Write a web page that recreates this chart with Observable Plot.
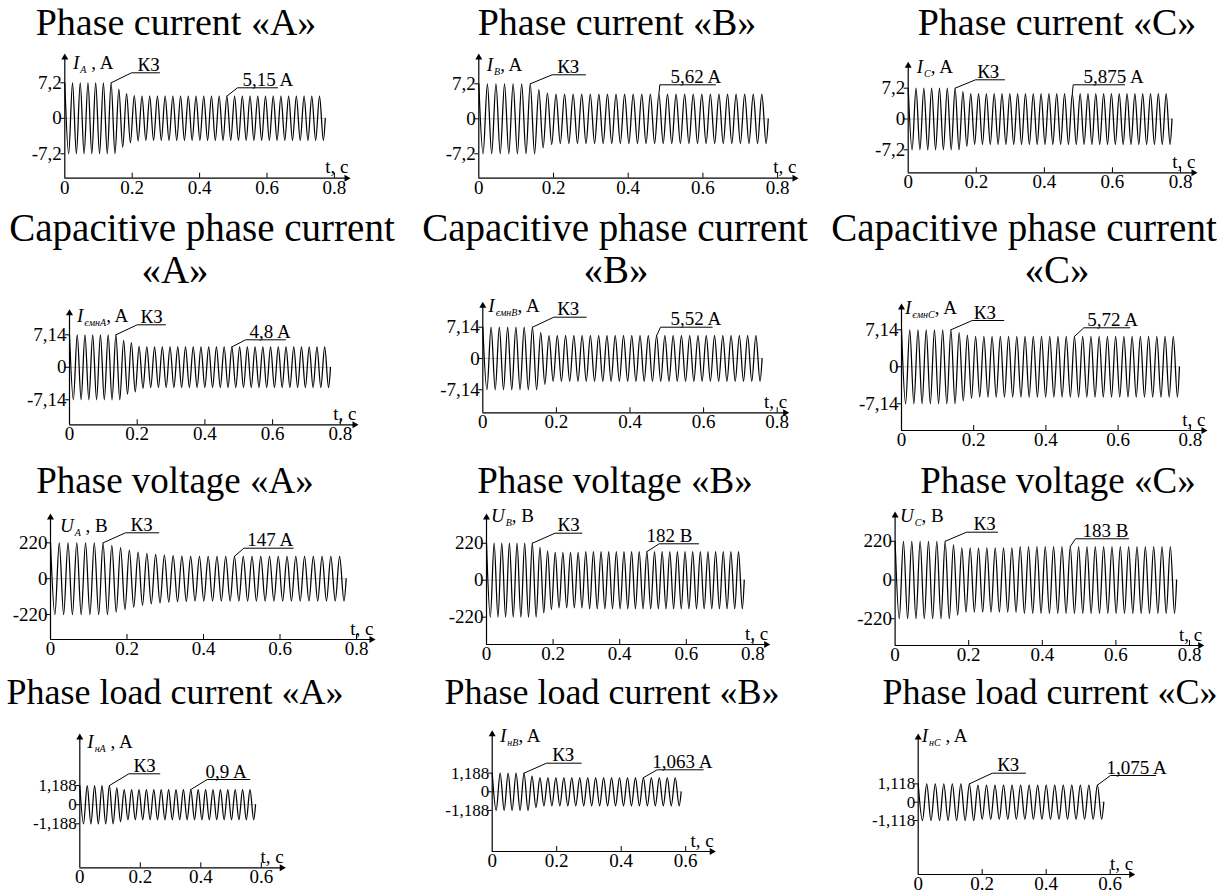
<!DOCTYPE html>
<html><head><meta charset="utf-8">
<script src="https://cdn.jsdelivr.net/npm/d3@7"></script>
<script src="https://cdn.jsdelivr.net/npm/@observablehq/plot@0.6"></script>
<style>
body{margin:0;background:#fff;}
#fig{position:relative;width:1225px;height:894px;overflow:hidden;font-family:"Liberation Serif","Times New Roman",serif;color:#000;}
.title{position:absolute;white-space:nowrap;transform:translate(-50%,-50%);line-height:1;}
.ylab{position:absolute;font-size:19px;white-space:nowrap;transform:translateY(-50%);line-height:1;}
.ylab i.s{font-size:10px;position:relative;top:4px;margin-left:1px;}
.panel{position:absolute;}
</style></head><body><div id="fig"></div><script>
// ---------- titles (text, line by line) ----------
const titleLines = [
  ["Phase current «A»"], ["Phase current «B»"], ["Phase current «C»"],
  ["Capacitive phase current", "«A»"], ["Capacitive phase current", "«B»"], ["Capacitive phase current", "«C»"],
  ["Phase voltage «A»"], ["Phase voltage «B»"], ["Phase voltage «C»"],
  ["Phase load current «A»"], ["Phase load current «B»"], ["Phase load current «C»"]
];
// y-axis labels: symbol, subscript, unit
const yLabelSym = ["I","I","I","I","I","I","U","U","U","I","I","I"];
const yLabelSub = ["A","B","C","ємнA","ємнB","ємнC","A","B","C","нA","нB","нC"];
const yLabelUnit = [" , A",", A",", A",", A",", A",", A"," , B",", B",", B"," , A",", A"," , A"];
// y tick values and labels
const yTickVal = [7.2,7.2,7.2,7.14,7.14,7.14,220,220,220,1.188,1.188,1.118];
const yTickText = [["7,2","0","-7,2"],["7,2","0","-7,2"],["7,2","0","-7,2"],
  ["7,14","0","-7,14"],["7,14","0","-7,14"],["7,14","0","-7,14"],
  ["220","0","-220"],["220","0","-220"],["220","0","-220"],
  ["1,188","0","-1,188"],["1,188","0","-1,188"],["1,118","0","-1,118"]];
// x ticks
const xTicksLong = [0,0.2,0.4,0.6,0.8];
const xTicksLongText = ["0","0.2","0.4","0.6","0.8"];
const xTicksShort = [0,0.2,0.4,0.6];
const xTicksShortText = ["0","0.2","0.4","0.6"];
// annotation texts
const faultText = "КЗ";
const valueText = ["5,15 A","5,62 A","5,875 A","4,8 A","5,52 A","5,72 A","147 A","182 B","183 B","0,9 A","1,063 A","1,075 A"];
// end time of each oscillogram, s
const tEnd = [0.773,0.775,0.775,0.771,0.759,0.770,0.773,0.774,0.765,0.581,0.586,0.580];
// peak amplitude of each cycle
const ampIA = [7.2,7.2,7.2,7.2,7.2,7.2,7.2,5.9,5.0,4.6,4.5,4.5,4.5,4.5,4.5,4.5,4.5,4.5,4.5,4.5,4.5,4.5,4.5,4.5,4.5,4.5,4.5,4.5,4.5,4.5,4.5,4.5,4.5,4.5];
const ampIB = [7.2,7.2,7.2,7.2,7.2,7.2,7.2,6.0,5.3,5.1,5.1,5.1,5.1,5.1,5.1,5.1,5.1,5.1,5.1,5.1,5.1,5.1,5.1,5.1,5.1,5.1,5.1,5.1,5.1,5.1,5.1,5.1,5.1,5.1];
const ampIC = [7.2,7.2,7.2,7.2,7.2,7.2,7.2,6.4,5.95,5.95,5.95,5.95,5.95,5.95,5.95,5.95,5.95,5.95,5.95,5.95,5.95,5.95,5.95,5.95,5.95,5.95,5.95,5.95,5.95,5.95,5.95,5.95,5.95,5.95];
const ampIcA = [7.14,7.14,7.14,7.14,7.14,7.14,7.14,5.9,5.4,4.6,4.47,4.47,4.47,4.47,4.47,4.47,4.47,4.47,4.47,4.47,4.47,4.47,4.47,4.47,4.47,4.47,4.47,4.47,4.47,4.47,4.47,4.47,4.47,4.47];
const ampIcB = [7.14,7.14,7.14,7.14,7.14,7.14,7.14,5.9,5.2,5.2,5.2,5.2,5.2,5.2,5.2,5.2,5.2,5.2,5.2,5.2,5.2,5.2,5.2,5.2,5.2,5.2,5.2,5.2,5.2,5.2,5.2,5.2,5.2,5.2];
const ampIcC = [7.14,7.14,7.14,7.14,7.14,7.14,7.14,6.6,6.1,5.85,5.85,5.85,5.85,5.85,5.85,5.85,5.85,5.85,5.85,5.85,5.85,5.85,5.85,5.85,5.85,5.85,5.85,5.85,5.85,5.85,5.85,5.85,5.85,5.85];
const ampUA = [220,220,220,220,220,220,220,205,190,175,163,155,149,144,141,139,137,137,137,137,137,137,137,137,137,137,137,137,137,137,137,137,137,137];
const ampUB = [220,220,220,220,220,220,220,195,175,165,165,165,165,170,170,170,170,170,170,170,170,170,170,170,170,170,170,170,170,170,170,170,170,170];
const ampUC = [220,220,220,220,220,220,220,200,183,183,183,183,183,183,183,190,190,190,190,190,190,190,190,190,190,190,190,190,190,190,190,190,190,190];
const ampInA = [1.188,1.188,1.188,1.188,1.188,1.05,0.94,0.94,0.94,0.94,0.94,0.94,0.94,0.94,0.94,0.94,0.94,0.94,0.94,0.94,0.94,0.94,0.94,0.94];
const ampInB = [1.188,1.188,1.188,1.188,1.188,1.0,0.90,0.90,0.90,0.90,0.90,0.90,0.90,0.90,0.90,0.90,0.90,0.90,0.90,0.90,0.90,0.90,0.90,0.90];
const ampInC = [1.118,1.118,1.118,1.118,1.118,1.118,1.118,1.04,1.04,1.04,1.04,1.04,1.04,1.04,1.04,1.04,1.04,1.04,1.04,1.04,1.04,1.04];
const series = [ampIA,ampIB,ampIC,ampIcA,ampIcB,ampIcC,ampUA,ampUB,ampUC,ampInA,ampInB,ampInC];
// cycle index of the peak each label points to: [fault, value]
const labelPeak = [[6,21],[6,21],[6,21],[6,21],[6,21],[6,21],[6,21],[6,21],[6,21],[4,15],[4,19],[6,21]];

// ---------- layout (page pixels) ----------
const cols = [[0,410],[410,815],[815,1225]];
const rows = [[45,160],[295,160],[500,172],[722,172]];
const layout = [
  {ox:64.3, axisY:177.7, pxs:337,   zeroY:117.8, pxu:4.93,  top:55,    right:348},
  {ox:478.3,axisY:177.7, pxs:373.5, zeroY:118.3, pxu:4.86,  top:55,    right:796},
  {ox:907.7,axisY:172.3, pxs:340.4, zeroY:118.5, pxu:4.28,  top:63.3,  right:1195},
  {ox:69,   axisY:424.3, pxs:338.5, zeroY:366.8, pxu:4.55,  top:310.7, right:356},
  {ox:482.3,axisY:412.3, pxs:368,   zeroY:358,   pxu:4.38,  top:303.3, right:786.7},
  {ox:901,  axisY:430,   pxs:361,   zeroY:366.3, pxu:5.18,  top:305,   right:1205},
  {ox:50,   axisY:639,   pxs:382.5, zeroY:578.2, pxu:0.163, top:515,   right:373},
  {ox:486,  axisY:644,   pxs:333,   zeroY:579.7, pxu:0.168, top:515,   right:767.7},
  {ox:894.6,axisY:645,   pxs:368,   zeroY:579.5, pxu:0.176, top:513,   right:1201.7},
  {ox:79.3, axisY:867.3, pxs:302.5, zeroY:804.2, pxu:16.1,  top:735,   right:283.3},
  {ox:491.7,axisY:851,   pxs:322.5, zeroY:791.3, pxu:15.7,  top:731.7, right:713.3},
  {ox:917.7,axisY:874,   pxs:320,   zeroY:801.7, pxu:16.4,  top:735,   right:1132.7}
];
// annotation geometry: [elbowX, elbowY, endX, textX]
const annoFault = [[131,72.3,159,137],[551.7,74.3,585,556.7],[975,79.3,1004,976.7],[136.7,324.3,165,140],[553.3,316.7,585.7,556.7],[971.7,320,1003.3,973.3],[125,532.3,158.3,130],[554.5,532.7,581.4,557],[966,531.7,997,973],[128.3,773.3,159.3,133],[546,762.7,580.7,551.7],[991.7,772.7,1025,996.7]];
const annoValue = [[237,87.3,277,242],[659.3,84.3,715,670],[1072.7,84.3,1124,1083],[245,339.3,285,249],[660,326.7,711.7,670],[1083.3,327.3,1129.3,1086.7],[243.3,547.7,292.7,246.7],[658.6,543.3,698,646],[1075,538.3,1128,1082],[206.7,779,249.3,205],[656.7,769.3,702.7,651.7],[1110,775,1155,1106]];
const titleSize = [38,38,38,39,39,39,37,37,37,36,36,36];
const titlePos = [
  [[176,22]],[[617,22]],[[1057,22]],
  [[202,227],[175,269]],[[615,227],[616,269]],[[1024,227],[1057,269]],
  [[175,480]],[[615,480]],[[1058,480]],
  [[175,692]],[[612,692]],[[1050,692]]
];
const yLabPos = [[73,61.7],[486.7,64],[916.7,66],[77,315],[488.3,305],[905,306.7],[60,525],[491,515],[900,515],[87.3,740.7],[500,735],[921.7,735]];

const fig = document.getElementById("fig");
const FONT = "'Liberation Serif','Times New Roman',serif";

for (let i = 0; i < 12; i++) {
  const L = layout[i];
  const amps = series[i];
  const N = amps.length;
  const T = tEnd[i] / (N - 0.25);
  const pts = [];
  amps.forEach((a, k) => { pts.push({t: k * T, v: a}); pts.push({t: (k + 0.5) * T, v: -a}); });
  pts.push({t: tEnd[i], v: 0});

  const col = cols[i % 3], row = rows[Math.floor(i / 3)];
  const bx = col[0], by = row[0], w = col[1] - col[0], h = row[1];
  const xv = px => (px - L.ox) / L.pxs;
  const yv = py => (L.zeroY - py) / L.pxu;
  const ax = yv(L.axisY);
  const longAxis = i < 9;
  const xt = longAxis ? xTicksLong : xTicksShort;
  const xtt = longAxis ? xTicksLongText : xTicksShortText;
  const yt = [yTickVal[i], 0, -yTickVal[i]];
  const ytSize = i >= 9 ? 17 : 19;

  const pk = (idx) => ({t: idx * T, v: amps[idx]});
  const f = annoFault[i], vv = annoValue[i];
  const fPath = [pk(labelPeak[i][0]), {t: xv(f[0]), v: yv(f[1])}, {t: xv(f[2]), v: yv(f[1])}];
  const vPath = [pk(labelPeak[i][1]), {t: xv(vv[0]), v: yv(vv[1])}, {t: xv(vv[2]), v: yv(vv[1])}];

  const chart = Plot.plot({
    width: w, height: h, margin: 0,
    x: {domain: [0, 1], range: [L.ox - bx, L.ox - bx + L.pxs], axis: null},
    y: {domain: [0, 1], range: [L.zeroY - by, L.zeroY - by - L.pxu], axis: null},
    style: {fontFamily: FONT, fontSize: "19px", background: "transparent", overflow: "visible"},
    marks: [
      Plot.ruleY([0], {x1: 0, x2: tEnd[i], stroke: "#9a9a9a", strokeWidth: 0.6}),
      Plot.line(pts, {x: "t", y: "v", curve: "monotone-x", stroke: "#000", strokeWidth: 1.25}),
      // axes
      Plot.ruleY([ax], {x1: 0, x2: xv(L.right - 2), stroke: "#000", strokeWidth: 1.2}),
      Plot.ruleX([0], {y1: ax, y2: yv(L.top + 2), stroke: "#000", strokeWidth: 1.2}),
      Plot.dot([[xv(L.right - 2), ax]], {x: d => d[0], y: d => d[1], symbol: "triangle", r: 2.6, fill: "#000", stroke: "none", rotate: 90}),
      Plot.dot([[0, yv(L.top + 2)]], {x: d => d[0], y: d => d[1], symbol: "triangle", r: 2.6, fill: "#000", stroke: "none"}),
      // x ticks
      Plot.ruleX(xt.slice(1), {x: d => d, y1: ax, y2: yv(L.axisY - 5), stroke: "#000", strokeWidth: 1}),
      Plot.text(xt, {x: d => d, y: ax, text: (d, j) => xtt[j], lineAnchor: "top", dy: 2, fontSize: 19}),
      Plot.text(["t, c"], {x: xv(L.right), y: ax, text: d => d, textAnchor: "end", lineAnchor: "bottom", dy: -5, fontSize: 19}),
      // y ticks
      Plot.ruleY(yt, {y: d => d, x1: xv(L.ox - 4), x2: 0, stroke: "#000", strokeWidth: 1}),
      Plot.text(yt, {x: 0, y: d => d, text: (d, j) => yTickText[i][j], textAnchor: "end", lineAnchor: "middle", dx: -3, fontSize: ytSize}),
      // annotations
      Plot.line(fPath, {x: "t", y: "v", stroke: "#000", strokeWidth: 1}),
      Plot.line(vPath, {x: "t", y: "v", stroke: "#000", strokeWidth: 1}),
      Plot.text([faultText], {x: xv(f[3]), y: yv(f[1]), text: d => d, textAnchor: "start", lineAnchor: "bottom", dy: -2, fontSize: 19}),
      Plot.text([valueText[i]], {x: xv(vv[3]), y: yv(vv[1]), text: d => d, textAnchor: "start", lineAnchor: "bottom", dy: -2, fontSize: 19})
    ]
  });
  chart.classList.add("panel");
  chart.style.left = bx + "px";
  chart.style.top = by + "px";
  fig.appendChild(chart);

  // titles
  titleLines[i].forEach((line, j) => {
    const d = document.createElement("div");
    d.className = "title";
    d.textContent = line;
    d.style.fontSize = titleSize[i] + "px";
    d.style.left = titlePos[i][j][0] + "px";
    d.style.top = titlePos[i][j][1] + "px";
    fig.appendChild(d);
  });
  // y-axis label
  const yl = document.createElement("div");
  yl.className = "ylab";
  yl.innerHTML = `<i>${yLabelSym[i]}</i><i class="s">${yLabelSub[i]}</i>${yLabelUnit[i]}`;
  yl.style.left = yLabPos[i][0] + "px";
  yl.style.top = yLabPos[i][1] + "px";
  fig.appendChild(yl);
}
</script></body></html>
